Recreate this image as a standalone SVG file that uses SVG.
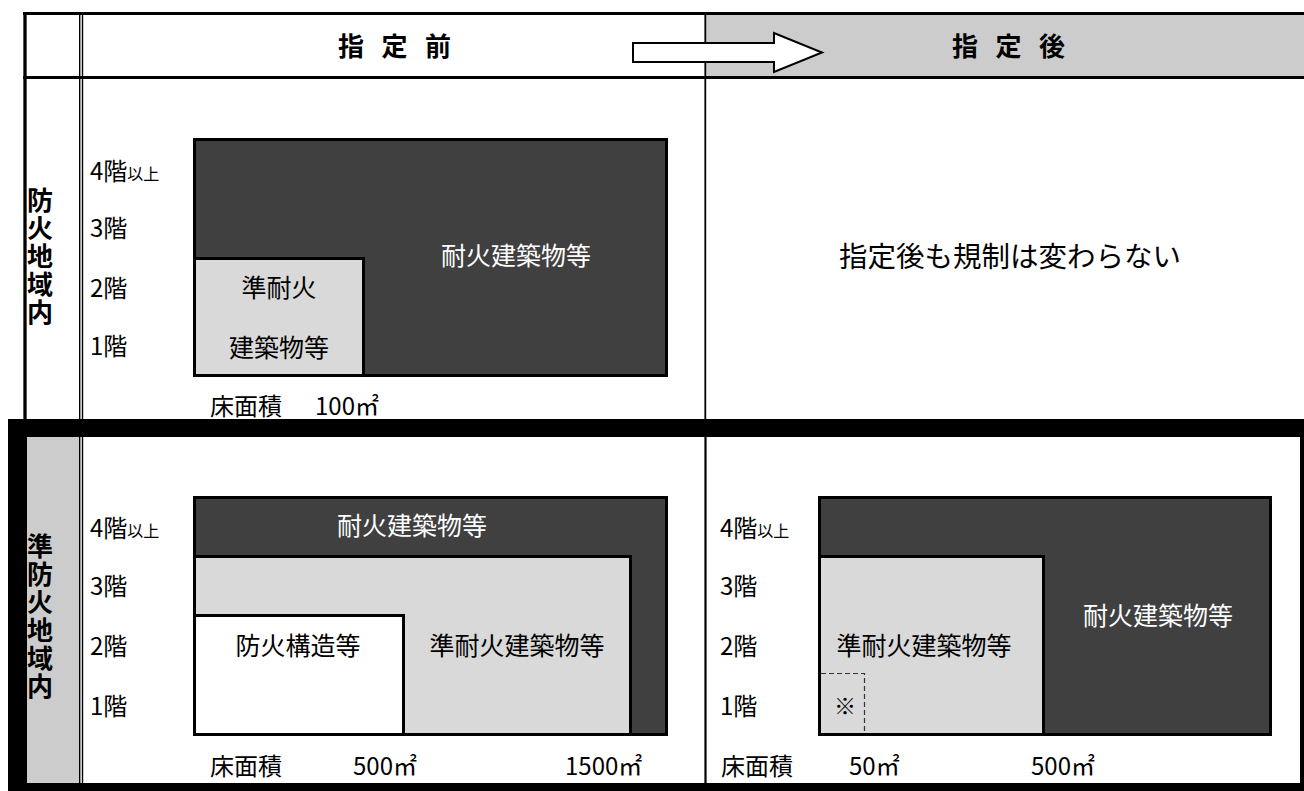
<svg xmlns="http://www.w3.org/2000/svg" width="1304" height="791" viewBox="0 0 1304 791">
<style>
text{font-family:"Noto Sans CJK JP","Noto Sans CJK SC",sans-serif;fill:#000}
.lbl{font-size:24px}
.sm{font-size:16px}
.box{font-size:25px;text-anchor:middle}
.wt{fill:#fff}
.hdr{font-size:26px;font-weight:bold}
.vt{font-size:26px;font-weight:bold;writing-mode:vertical-rl;letter-spacing:2px}
.dark{fill:#404040;stroke:#000;stroke-width:3}
.light{fill:#d9d9d9;stroke:#000;stroke-width:3}
.white{fill:#fff;stroke:#000;stroke-width:3}
.ln{stroke:#000;fill:none}
</style>
<rect width="1304" height="791" fill="#fff"/>
<g id="frame">
<rect x="705" y="15" width="599" height="61" fill="#cccccc"/>
<rect x="27" y="437" width="52" height="346" fill="#cccccc"/>
<line class="ln" x1="23" y1="13.5" x2="1304" y2="13.5" stroke-width="3"/>
<line class="ln" x1="23" y1="77.5" x2="1304" y2="77.5" stroke-width="3"/>
<line class="ln" x1="25" y1="12" x2="25" y2="419" stroke-width="3.3"/>
<line class="ln" x1="79.7" y1="12" x2="79.7" y2="783" stroke-width="1.4"/>
<line class="ln" x1="82.5" y1="12" x2="82.5" y2="783" stroke-width="1.4"/>
<line class="ln" x1="705.3" y1="15" x2="705.3" y2="419" stroke-width="1.8"/>
<line class="ln" x1="705.5" y1="437" x2="705.5" y2="783" stroke-width="2.2"/>
<rect x="8" y="419" width="1296" height="18" fill="#000"/>
<rect x="8" y="419" width="19" height="372" fill="#000"/>
<rect x="8" y="783" width="1296" height="8" fill="#000"/>
<rect x="1300" y="437" width="4" height="354" fill="#000"/>
</g>
<g id="header">
<text class="hdr" x="338 381.5 425" y="56">指定前</text>
<text class="hdr" x="952 995.5 1039" y="56">指定後</text>
</g>
<g id="connectors">
<polygon points="633,43 774,43 774,33 822,52.5 774,72 774,62 633,62" fill="#fff" stroke="#000" stroke-width="2"/>
</g>
<g id="label-bouka">
<text class="vt" x="40" y="187">防火地域内</text>
</g>
<g id="label-junbouka">
<text class="vt" x="40" y="533">準防火地域内</text>
</g>
<g id="floors-upper">
<text class="lbl" x="90" y="180">4階<tspan class="sm">以上</tspan></text>
<text class="lbl" x="90" y="237">3階</text>
<text class="lbl" x="90" y="297">2階</text>
<text class="lbl" x="90" y="355">1階</text>
</g>
<g id="before-bouka">
<rect class="dark" x="194.5" y="139.5" width="472" height="236"/>
<rect class="light" x="194.5" y="258.5" width="169" height="117"/>
<text class="box wt" x="516" y="265">耐火建築物等</text>
<text class="box" x="279" y="297">準耐火</text>
<text class="box" x="279" y="357">建築物等</text>
<text class="lbl" x="210" y="415">床面積</text>
<text class="lbl" x="315" y="415">100㎡</text>
</g>
<g id="after-bouka">
<text x="1010" y="267" font-size="28.5" text-anchor="middle">指定後も規制は変わらない</text>
</g>
<g id="floors-lower-left">
<text class="lbl" x="90" y="537">4階<tspan class="sm">以上</tspan></text>
<text class="lbl" x="90" y="595">3階</text>
<text class="lbl" x="90" y="655">2階</text>
<text class="lbl" x="90" y="715">1階</text>
</g>
<g id="before-junbouka">
<rect class="dark" x="194.5" y="497.5" width="472" height="237"/>
<rect class="light" x="194.5" y="556.5" width="436" height="178"/>
<rect class="white" x="194.5" y="615.5" width="209" height="119"/>
<text class="box wt" x="412" y="535">耐火建築物等</text>
<text class="box" x="298" y="655">防火構造等</text>
<text class="box" x="517" y="655">準耐火建築物等</text>
<text class="lbl" x="210" y="775">床面積</text>
<text class="lbl" x="353" y="775">500㎡</text>
<text class="lbl" x="565" y="775">1500㎡</text>
</g>
<g id="floors-lower-right">
<text class="lbl" x="720" y="537">4階<tspan class="sm">以上</tspan></text>
<text class="lbl" x="720" y="595">3階</text>
<text class="lbl" x="720" y="655">2階</text>
<text class="lbl" x="720" y="715">1階</text>
</g>
<g id="after-junbouka">
<rect class="dark" x="819.5" y="497.5" width="451" height="237"/>
<rect class="light" x="819.5" y="556.5" width="224" height="178"/>
<path d="M821,673.5 H864.5 V733" fill="none" stroke="#333" stroke-width="1.2" stroke-dasharray="5,3"/>
<text x="845" y="714" font-size="22" text-anchor="middle">※</text>
<text class="box" x="924" y="655">準耐火建築物等</text>
<text class="box wt" x="1158" y="625">耐火建築物等</text>
<text class="lbl" x="721" y="775">床面積</text>
<text class="lbl" x="849" y="775">50㎡</text>
<text class="lbl" x="1031" y="775">500㎡</text>
</g>
</svg>
